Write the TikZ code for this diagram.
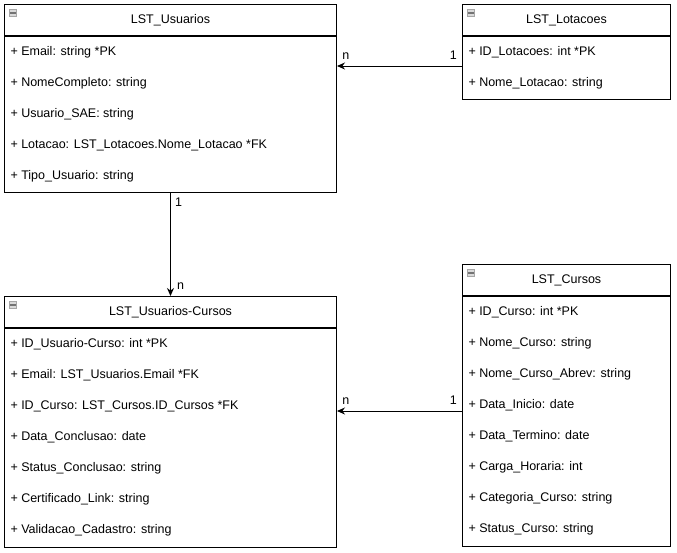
\documentclass[tikz,border=0pt]{standalone}
\usepackage{fontspec}
\setmainfont{Liberation Sans}
\usetikzlibrary{positioning,arrows.meta}
\tikzset{every picture/.style={line width=1pt}}

\begin{document}
\begin{tikzpicture}[x=1pt, y=-1pt, font=\fontsize{12.5}{14}\selectfont,
    hdr/.style={draw, rectangle, minimum height=31pt, inner sep=0pt},
    body/.style={draw, rectangle, inner sep=0pt},
    attr/.style={anchor=west, inner sep=0pt, text height=9pt, text depth=3pt},
    icon/.style={draw=gray!70, fill=gray!30, minimum size=7pt, inner sep=0pt, anchor=north west,
        path picture={\draw[gray!90!black, line width=1.4pt] (path picture bounding box.west) -- (path picture bounding box.east);}},
    conn/.style={-{Stealth[length=8pt, width=7pt]}},
    mult/.style={inner sep=1pt}]
\useasboundingbox (0,0) rectangle (677,552);

    % LST_Usuarios
\node[hdr, minimum width=332pt, anchor=north west] (usu) at (4,4) {LST\_Usuarios};
\node[body, minimum width=332pt, minimum height=156pt, below=0pt of usu] (usuB) {};
\node[icon] (usuI) at ([xshift=5pt, yshift=-5pt]usu.north west) {};
\foreach \t [count=\i] in {+ Email: string *PK, + NomeCompleto: string, + Usuario\_SAE: string,
    + Lotacao: LST\_Lotacoes.Nome\_Lotacao *FK, + Tipo\_Usuario: string}
    \node[attr] (usu\i) at ([xshift=6pt, yshift={-16pt-31pt*(\i-1)}]usuB.north west) {\t};

    % LST_Lotacoes
\node[hdr, minimum width=208pt, anchor=north west] (lot) at (462,4) {LST\_Lotacoes};
\node[body, minimum width=208pt, minimum height=63pt, below=0pt of lot] (lotB) {};
\node[icon] (lotI) at ([xshift=5pt, yshift=-5pt]lot.north west) {};
\foreach \t [count=\i] in {+ ID\_Lotacoes: int *PK, + Nome\_Lotacao: string}
    \node[attr] (lot\i) at ([xshift=6pt, yshift={-16pt-31pt*(\i-1)}]lotB.north west) {\t};

    % LST_Usuarios-Cursos
\node[hdr, minimum width=332pt, anchor=north west] (uc) at (4,296) {LST\_Usuarios-Cursos};
\node[body, minimum width=332pt, minimum height=219pt, below=0pt of uc] (ucB) {};
\node[icon] (ucI) at ([xshift=5pt, yshift=-5pt]uc.north west) {};
\foreach \t [count=\i] in {+ ID\_Usuario-Curso: int *PK, + Email: LST\_Usuarios.Email *FK,
    + ID\_Curso: LST\_Cursos.ID\_Cursos *FK, + Data\_Conclusao: date, + Status\_Conclusao: string,
    + Certificado\_Link: string, + Validacao\_Cadastro: string}
    \node[attr] (uc\i) at ([xshift=6pt, yshift={-16pt-31pt*(\i-1)}]ucB.north west) {\t};

    % LST_Cursos
\node[hdr, minimum width=208pt, anchor=north west] (cur) at (462,264) {LST\_Cursos};
\node[body, minimum width=208pt, minimum height=250pt, below=0pt of cur] (curB) {};
\node[icon] (curI) at ([xshift=5pt, yshift=-5pt]cur.north west) {};
\foreach \t [count=\i] in {+ ID\_Curso: int *PK, + Nome\_Curso: string, + Nome\_Curso\_Abrev: string,
    + Data\_Inicio: date, + Data\_Termino: date, + Carga\_Horaria: int,
    + Categoria\_Curso: string, + Status\_Curso: string}
    \node[attr] (cur\i) at ([xshift=6pt, yshift={-16pt-31pt*(\i-1)}]curB.north west) {\t};

    % Connections
\coordinate (lotOut) at ([yshift=-30pt]lotB.north west);
\coordinate (curOut) at ([yshift=-115pt]curB.north west);
\draw[conn] (lotOut) -- node[mult, pos=0.93, above=5pt] (m1) {n} node[mult, pos=0.07, above=5pt] (m2) {1} (lotOut -| usuB.east);
\draw[conn] (usuB.south) -- node[mult, pos=0.09, right=3pt] (m3) {1} node[mult, pos=0.9, right=5pt] (m4) {n} (uc.north);
\draw[conn] (curOut) -- node[mult, pos=0.93, above=5pt] (m5) {n} node[mult, pos=0.07, above=5pt] (m6) {1} (curOut -| ucB.east);
\end{tikzpicture}
\end{document}
